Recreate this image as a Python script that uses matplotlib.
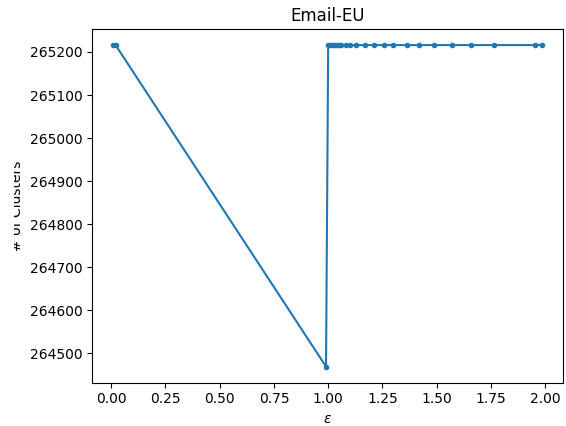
import matplotlib
matplotlib.use("Agg")
import matplotlib.pyplot as plt
from matplotlib.transforms import Bbox

# epsilon values and number of clusters
eps = [0.01, 0.02, 0.99, 1.00, 1.01, 1.02, 1.03, 1.04, 1.05, 1.06, 1.08,
       1.10, 1.13, 1.17, 1.21, 1.255, 1.30, 1.365, 1.42, 1.49, 1.57,
       1.66, 1.765, 1.955, 1.985]
clusters = [265216, 265216, 264469] + [265216] * 22

title = "Email-EU"
xlabel = r"$\varepsilon$"
ylabel = "# of Clusters"

fig = plt.figure(figsize=(5.66, 4.26), dpi=100)
ax = fig.add_axes([92 / 566, (426 - 382.7) / 426,
                   (563.3 - 92) / 566, (382.7 - 29) / 426])
ax.plot(eps, clusters, marker=".", color="C0")
ax.set_title(title)
ax.set_xlabel(xlabel)
ax.set_ylabel(ylabel)

# the reference has the left part of the y label cut off
lab = ax.yaxis.label
lab.set_clip_box(Bbox.from_extents(14, 0, 566, 426))
lab.set_clip_on(True)

fig.savefig("out.png", dpi=100)
